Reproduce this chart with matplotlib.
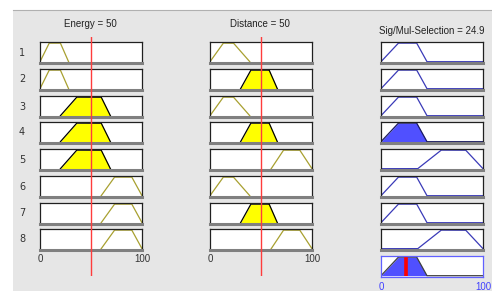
import numpy as np
import matplotlib
matplotlib.use("Agg")
import matplotlib.pyplot as plt
from matplotlib.patches import Rectangle
from matplotlib.lines import Line2D

# ==========================================
# DATA (read off the rule viewer)
# ==========================================
energy_input = 50
distance_input = 50
output_value = 24.9

# trapezoid corners [a, b, c, d] on a 0-100 universe
energy_low = [0, 9, 20, 28]
energy_med = [20, 36, 60, 69]
energy_high = [60, 73, 90, 100]

distance_low = [0, 13, 23, 39]
distance_med = [30, 40, 58, 66]
distance_high = [60, 72, 88, 100]

output_low = [0, 17, 35, 45]
output_high = [36, 59, 83, 100]

energy_rules = ["low", "low", "med", "med", "med", "high", "high", "high"]
distance_rules = ["low", "med", "low", "med", "high", "low", "med", "high"]
output_rules = ["low", "low", "low", "low", "high", "low", "low", "high"]

titles = ["Energy = 50", "Distance = 50", "Sig/Mul-Selection = 24.9"]
tick_labels = ["0", "100"]

energy_mfs = {"low": energy_low, "med": energy_med, "high": energy_high}
distance_mfs = {"low": distance_low, "med": distance_med, "high": distance_high}
output_mfs = {"low": output_low, "high": output_high}

# ==========================================
# STYLE / LAYOUT (pixels)
# ==========================================
W, H = 492, 291
BG = "#e6e6e6"
IN_LINE = "#a8a030"
IN_FILL = "#ffff00"
OUT_LINE = "#3a3ab8"
OUT_FILL = "#5050ff"
RED = "#ff3c3c"

col_x = [40, 210, 381]
col_w = 102
row_top = [42, 69, 96, 122, 149, 176, 203, 229]
row_h = 21
agg_top = 256

x = np.linspace(0, 100, 1001)


def trapmf(xx, p):
    return np.interp(xx, p, [0, 1, 1, 0], left=0, right=0)


def px_axes(fig, left, top, w, h):
    return fig.add_axes([left / W, 1 - (top + h) / H, w / W, h / H])


def style_box(ax, edge="#202020"):
    ax.set_xlim(0, 100)
    ax.set_ylim(-0.07, 1.06)
    ax.set_xticks([])
    ax.set_yticks([])
    ax.set_facecolor("white")
    for s in ["top", "left", "right"]:
        ax.spines[s].set_color(edge)
        ax.spines[s].set_linewidth(0.9)
    ax.spines["bottom"].set_color("#808080")
    ax.spines["bottom"].set_linewidth(2.2)


fig = plt.figure(figsize=(W / 100, H / 100), dpi=100)
fig.patch.set_facecolor("white")
fig.patches.append(Rectangle((13 / W, 0), 1 - 13 / W, 1 - 10 / H,
                             transform=fig.transFigure, facecolor=BG,
                             edgecolor="none", zorder=-10))
fig.lines.append(Line2D([13 / W, 1], [1 - 10 / H, 1 - 10 / H],
                        transform=fig.transFigure, color="#b0b0b0", lw=0.8))

firing = []
for i in range(8):
    mu_e = trapmf(energy_input, energy_mfs[energy_rules[i]])
    mu_d = trapmf(distance_input, distance_mfs[distance_rules[i]])
    firing.append(min(mu_e, mu_d))

    top = row_top[i]
    fig.text(22 / W, 1 - (top + row_h / 2) / H, str(i + 1), fontsize=7,
             color="#333333", ha="center", va="center")

    # inputs
    for c, (mfs, rules, val) in enumerate([(energy_mfs, energy_rules, energy_input),
                                           (distance_mfs, distance_rules, distance_input)]):
        ax = px_axes(fig, col_x[c], top, col_w, row_h)
        style_box(ax)
        p = mfs[rules[i]]
        mu = trapmf(val, p)
        xs = np.linspace(p[0], p[3], 400)
        ys = trapmf(xs, p)
        if mu > 0:
            ax.fill_between(xs, np.minimum(ys, mu), color=IN_FILL, lw=0)
            ax.plot(xs, np.minimum(ys, mu), color="black", lw=0.9)
        else:
            ax.plot(xs, ys, color=IN_LINE, lw=0.9)

    # output
    ax = px_axes(fig, col_x[2], top, col_w, row_h)
    style_box(ax)
    p = output_mfs[output_rules[i]]
    ys = trapmf(x, p)
    if firing[i] > 0:
        ax.fill_between(x, np.minimum(ys, firing[i]), color=OUT_FILL, lw=0)
        ax.plot(x, np.minimum(ys, firing[i]), color="#1a1a60", lw=0.9)
    else:
        ax.plot(x, ys, color=OUT_LINE, lw=0.9)

# aggregated output
ax = px_axes(fig, col_x[2], agg_top, col_w, row_h)
style_box(ax, edge="#6060ff")
ax.spines["bottom"].set_color("#6060ff")
ax.spines["bottom"].set_linewidth(0.9)
agg = np.zeros_like(x)
for i in range(8):
    agg = np.maximum(agg, np.minimum(trapmf(x, output_mfs[output_rules[i]]), firing[i]))
ax.fill_between(x, agg, color=OUT_FILL, lw=0)
ax.plot(x, agg, color="#404040", lw=0.9)
ax.plot([output_value, output_value], [0, 1], color="#ff0000", lw=2.6,
        solid_capstyle="butt")

# red input lines across columns 1 and 2
for c, val in enumerate([energy_input, distance_input]):
    ov = px_axes(fig, col_x[c], 37, col_w, 239)
    ov.set_xlim(0, 100)
    ov.set_ylim(0, 1)
    ov.axis("off")
    ov.axvline(val, color=RED, lw=1.0)

# titles
fig.text(90 / W, 1 - 24 / H, titles[0], fontsize=7, color="#222222",
         ha="center", va="center", family="Liberation Sans")
fig.text(260 / W, 1 - 24 / H, titles[1], fontsize=7, color="#222222",
         ha="center", va="center", family="Liberation Sans")
fig.text(432 / W, 1 - 31 / H, titles[2], fontsize=7, color="#222222",
         ha="center", va="center", family="Liberation Sans")

# tick labels
for c in range(2):
    fig.text(col_x[c] / W, 1 - 259 / H, tick_labels[0], fontsize=7, color="#333333",
             ha="center", va="center", family="Liberation Sans")
    fig.text((col_x[c] + col_w) / W, 1 - 259 / H, tick_labels[1], fontsize=7,
             color="#333333", ha="center", va="center", family="Liberation Sans")
fig.text(col_x[2] / W, 1 - 287 / H, tick_labels[0], fontsize=7, color="#4040ff",
         ha="center", va="center", family="Liberation Sans")
fig.text((col_x[2] + col_w) / W, 1 - 287 / H, tick_labels[1], fontsize=7,
         color="#4040ff", ha="center", va="center", family="Liberation Sans")

fig.savefig("out.png", dpi=100, facecolor=fig.get_facecolor())
